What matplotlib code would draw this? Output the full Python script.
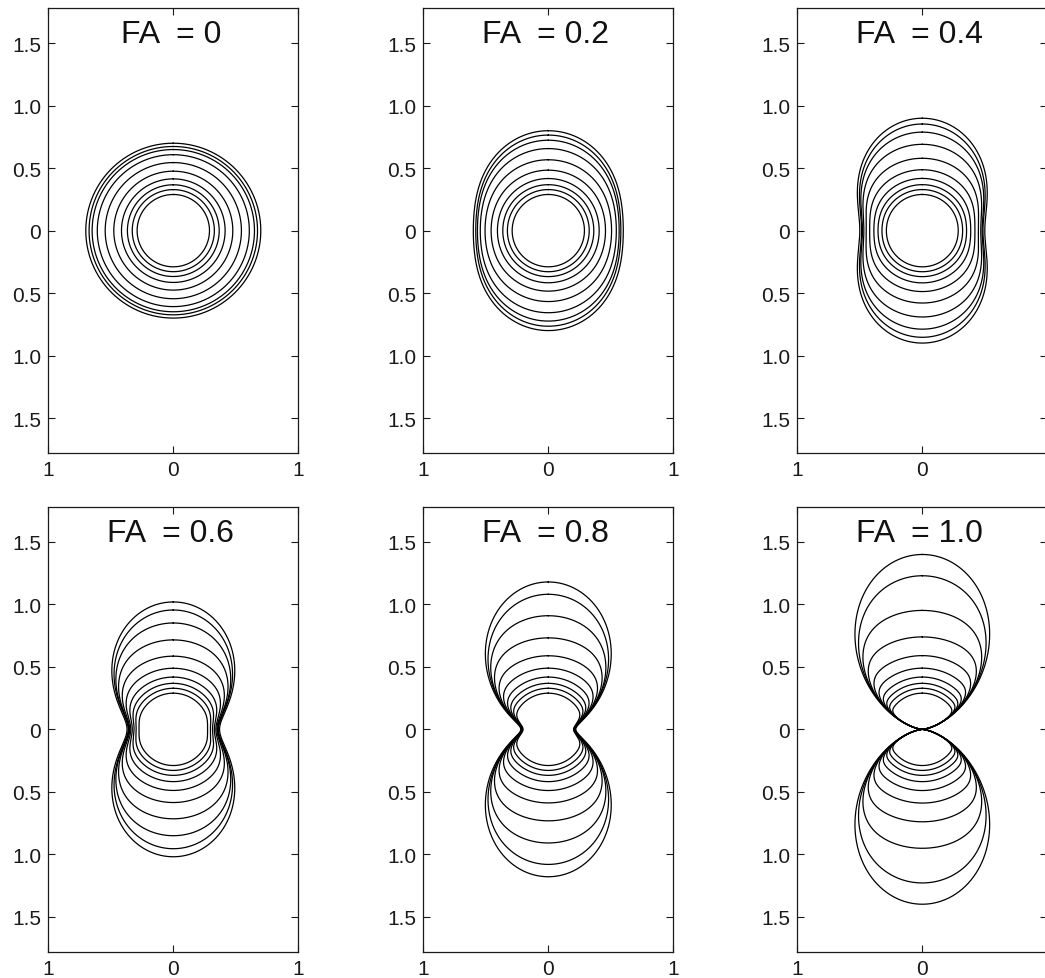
import numpy as np
import matplotlib
matplotlib.use("Agg")
import matplotlib.pyplot as plt

# ---- data ----
fa_labels = ["0", "0.2", "0.4", "0.6", "0.8", "1.0"]
lam_par = [0.70, 0.80, 0.90, 1.02, 1.18, 1.40]    # diffusivity along vertical axis
lam_perp = [0.70, 0.60, 0.50, 0.37, 0.22, 0.00]   # diffusivity along horizontal axis
bvals = [0.0, 3.0, 4.7, 6.2, 7.8, 9.4, 11.0, 12.5, 14.0, 15.9]  # one contour per b
noise_floor = 0.01

xticks = [-1, 0, 1]
xticklabels = ["1", "0", "1"]
yticks = [-1.5, -1.0, -0.5, 0, 0.5, 1.0, 1.5]
yticklabels = ["1.5", "1.0", "0.5", "0", "0.5", "1.0", "1.5"]

plt.rcParams['font.family'] = ['Liberation Sans', 'DejaVu Sans']

W, H = 1045, 979
fig = plt.figure(figsize=(W / 100, H / 100), dpi=100)

col_left = [48.3, 423.3, 797.3]
row_top = [9.3, 508.0]
ax_w, ax_h = 250.0, 444.7

theta = np.linspace(0, 2 * np.pi, 2001)

for i in range(6):
    r_i, c_i = divmod(i, 3)
    left = col_left[c_i] / W
    bottom = 1 - (row_top[r_i] + ax_h) / H
    ax = fig.add_axes([left, bottom, ax_w / W, ax_h / H])
    adc = lam_par[i] * np.cos(theta) ** 2 + lam_perp[i] * np.sin(theta) ** 2
    for b in bvals:
        if b == 0:
            r = adc
        else:
            r = -np.log(np.exp(-b * adc) + noise_floor) / b
        ax.plot(r * np.sin(theta), r * np.cos(theta), color='black', lw=0.9)
    ax.set_xlim(-1, 1)
    ax.set_ylim(-1.78, 1.78)
    ax.set_xticks(xticks)
    labels = list(xticklabels)
    if c_i == 2:
        labels[-1] = ""   # cut off by the figure edge in the reference
    ax.set_xticklabels(labels)
    ax.set_yticks(yticks)
    ax.set_yticklabels(yticklabels)
    ax.tick_params(direction='in', length=5, width=0.8, top=True, right=True,
                   labelsize=15, pad=5, colors='#1a1a1a')
    for s in ax.spines.values():
        s.set_linewidth(0.9)
        s.set_color('#1a1a1a')
    ax.text(-0.02, 1.51, "FA  = " + fa_labels[i], ha='center', va='baseline',
            fontsize=23, color='#111111')

fig.savefig("out.png", dpi=100)
